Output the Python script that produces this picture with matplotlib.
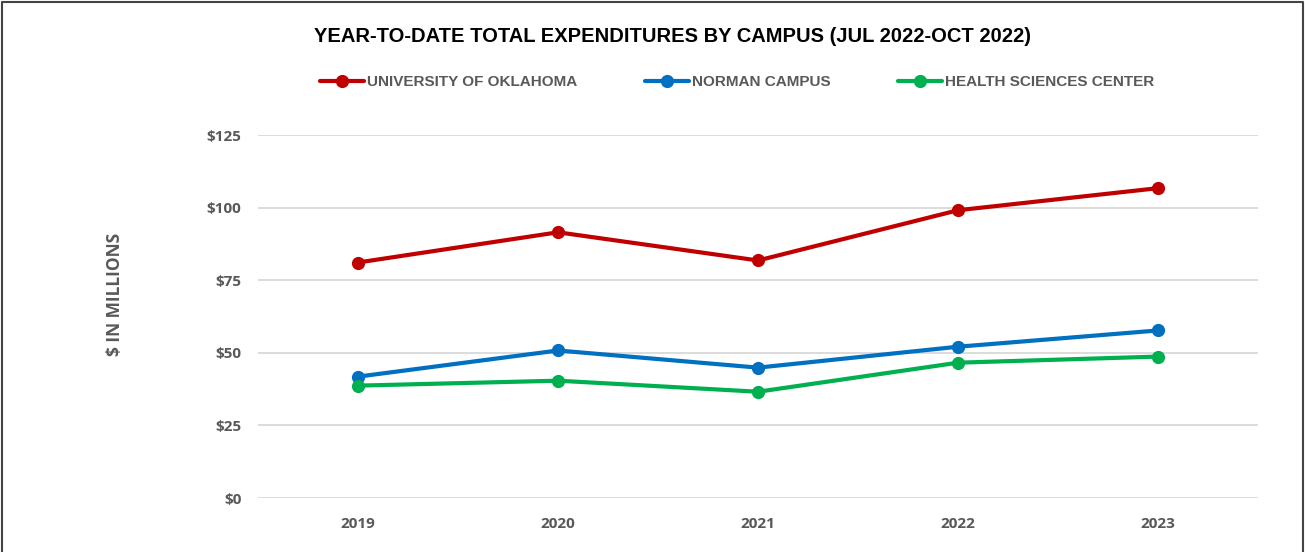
import matplotlib
matplotlib.use("Agg")
import matplotlib.pyplot as plt
from matplotlib.lines import Line2D

years = ["2019", "2020", "2021", "2022", "2023"]
ou_total = [81.1, 91.5, 81.8, 99.1, 106.7]
norman = [41.8, 50.8, 44.9, 52.1, 57.7]
hsc = [38.7, 40.4, 36.6, 46.6, 48.7]
y_ticks = [0, 25, 50, 75, 100, 125]

series = [
    ("UNIVERSITY OF OKLAHOMA", ou_total, "#c00000"),
    ("NORMAN CAMPUS", norman, "#0070c0"),
    ("HEALTH SCIENCES CENTER", hsc, "#00b050"),
]

grey = "#595959"
tick_font = "Open Sans"

fig = plt.figure(figsize=(13.05, 5.52), dpi=100)
ax = fig.add_axes([0.1977, 0.0978, 0.7663, 0.6576])

x = list(range(len(years)))
handles = []
for name, vals, col in series:
    ln, = ax.plot(x, vals, color=col, linewidth=3, marker="o", markersize=8.5,
                  solid_capstyle="round", label=name, zorder=3)
    handles.append(ln)

ax.set_xlim(-0.5, len(years) - 0.5)
ax.set_ylim(0, 125)
ax.set_xticks(x)
ax.set_xticklabels(years)
ax.set_yticks(y_ticks)
ax.set_yticklabels(["$%d" % v for v in y_ticks])
ax.grid(axis="y", color="#d9d9d9", linewidth=1.3)
ax.set_axisbelow(True)
for s in ax.spines.values():
    s.set_visible(False)
ax.tick_params(length=0, pad=12, labelsize=11, labelcolor=grey)
ax.tick_params(axis="x", pad=14)
for lab in ax.get_xticklabels() + ax.get_yticklabels():
    lab.set_fontweight("bold")
    lab.set_family(tick_font)

fig.text(0.088, 0.466, "$ IN MILLIONS", rotation=90, ha="center", va="center",
         fontsize=12.5, fontweight="bold", color=grey, family=tick_font)

fig.text(0.515, 0.933, "YEAR-TO-DATE TOTAL EXPENDITURES BY CAMPUS (JUL 2022-OCT 2022)",
         ha="center", va="center", fontsize=14.5, fontweight="bold",
         color="black", family="Liberation Sans")

leg = fig.legend(handles=handles, loc="center", bbox_to_anchor=(0.565, 0.851),
                 ncol=3, frameon=False, handlelength=2.9, handletextpad=0.2,
                 columnspacing=4.4,
                 prop={"family": "Liberation Sans", "weight": "bold", "size": 11})
for t in leg.get_texts():
    t.set_color(grey)

# outer border (left, top, right)
fig.add_artist(Line2D([0.0015, 0.0015, 0.9985, 0.9985], [0, 0.997, 0.997, 0],
                      transform=fig.transFigure, color="#444444", linewidth=1.5))

fig.savefig("out.png", dpi=100, facecolor="white")
